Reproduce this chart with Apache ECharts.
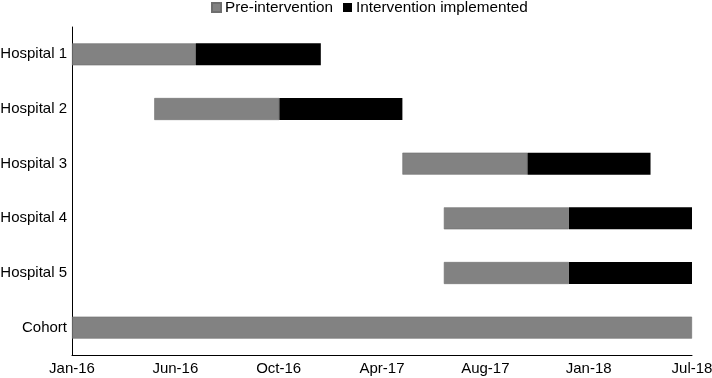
<!DOCTYPE html>
<html>
<head>
<meta charset="utf-8">
<script src="https://cdn.jsdelivr.net/npm/echarts@6/dist/echarts.min.js"></script>
<style>
  html, body { margin: 0; padding: 0; background: #fff; }
  #chart { width: 712px; height: 378px; }
</style>
</head>
<body>
<div id="chart"></div>
<script>
// days counted from 1 Jan 2016
const categories = ['Hospital 1', 'Hospital 2', 'Hospital 3', 'Hospital 4', 'Hospital 5', 'Cohort'];
const startDay = [0, 121, 486, 547, 547, 0];
const preDays = [182, 184, 184, 184, 184, 912];
const interventionDays = [184, 181, 181, 181, 181, 0];
const tickLabels = ['Jan-16', 'Jun-16', 'Oct-16', 'Apr-17', 'Aug-17', 'Jan-18', 'Jul-18'];
const tickStep = 152;

const chart = echarts.init(document.getElementById('chart'));

const font = 'Liberation Sans, Arial, sans-serif';

var option = {
  backgroundColor: '#ffffff',
  animation: false,
  textStyle: { fontFamily: font },
  legend: {
    top: 0,
    left: 206,
    padding: [0, 5],
    itemWidth: 9,
    itemHeight: 9,
    itemGap: 10,
    icon: 'rect',
    data: ['Pre-intervention', 'Intervention implemented'],
    textStyle: { fontSize: 15.3, color: '#000', fontFamily: font, padding: [0, 0, 0, -1] }
  },
  grid: {
    left: 72,
    right: 20,
    top: 27,
    bottom: 23,
    containLabel: false,
    outerBoundsMode: 'none'
  },
  xAxis: {
    type: 'value',
    min: 0,
    max: tickStep * (tickLabels.length - 1),
    interval: tickStep,
    splitLine: { show: false },
    axisTick: { show: false },
    axisLine: { show: true, lineStyle: { color: '#000', width: 1 } },
    axisLabel: {
      color: '#000',
      fontSize: 15,
      fontFamily: font,
      margin: 6,
      formatter: function (v) { return tickLabels[Math.round(v / tickStep)]; }
    }
  },
  yAxis: {
    type: 'category',
    inverse: true,
    data: categories,
    axisTick: { show: false },
    axisLine: { show: true, lineStyle: { color: '#000', width: 1 } },
    axisLabel: { color: '#000', fontSize: 15, fontFamily: font, margin: 5 }
  },
  series: [{
    name: 'start',
    type: 'bar',
    stack: 'gantt',
    barWidth: 22,
    itemStyle: { color: 'transparent' },
    emphasis: { disabled: true },
    data: startDay
  }, {
    name: 'Pre-intervention',
    type: 'bar',
    stack: 'gantt',
    barWidth: 22,
    itemStyle: { color: '#828282', borderColor: '#6e6e6e', borderWidth: 0.6 },
    data: preDays
  }, {
    name: 'Intervention implemented',
    type: 'bar',
    stack: 'gantt',
    barWidth: 22,
    itemStyle: { color: '#000000' },
    data: interventionDays
  }]
};

chart.setOption(option);
</script>
</body>
</html>
